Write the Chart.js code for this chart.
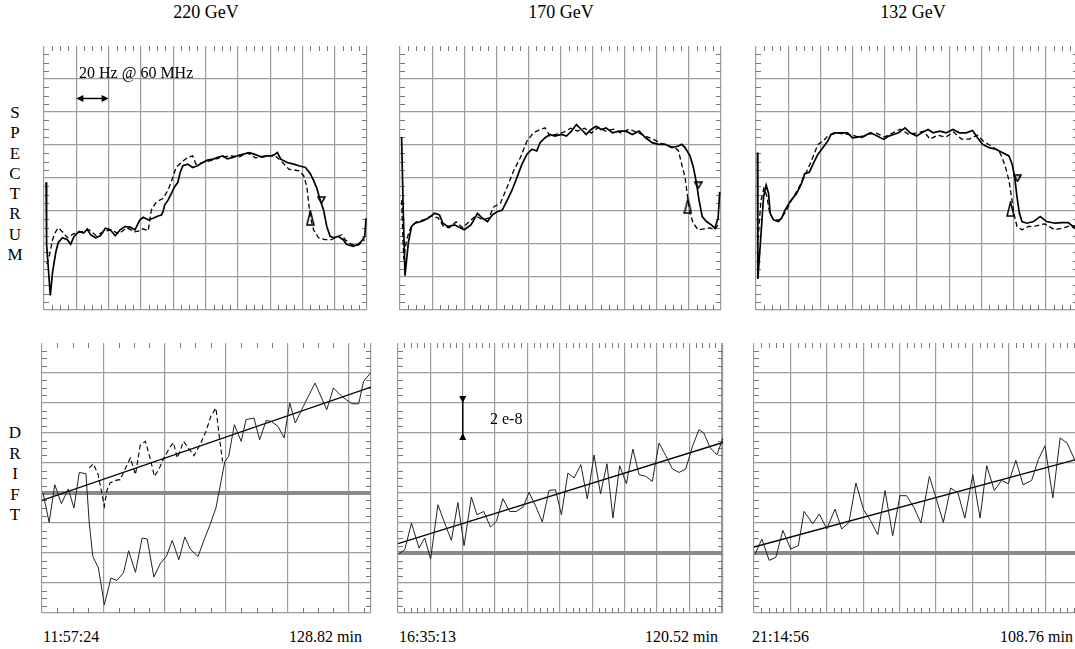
<!DOCTYPE html>
<html>
<head>
<meta charset="utf-8">
<script src="https://cdn.jsdelivr.net/npm/chart.js@4.4.1/dist/chart.umd.min.js"></script>
<style>
  html, body { margin: 0; padding: 0; background: #fff; }
  body { width: 1075px; height: 649px; overflow: hidden; position: relative;
         font-family: "Liberation Serif", "Times New Roman", serif; color: #000; }
  canvas { position: absolute; }
  .title { position: absolute; top: 2px; width: 200px; text-align: center; font-size: 18px; line-height: 20px; }
  .side { position: absolute; left: 5px; width: 20px; text-align: center; font-size: 17px; }
  .foot { position: absolute; top: 627px; font-size: 16px; line-height: 20px; white-space: nowrap; }
  .note { position: absolute; font-size: 16px; line-height: 20px; white-space: nowrap; z-index: 2; }
</style>
</head>
<body>
<div class="title" style="left:106px">220 GeV</div>
<div class="title" style="left:461px">170 GeV</div>
<div class="title" style="left:813px">132 GeV</div>

<div class="side" style="top:103px;line-height:20.3px">S<br>P<br>E<br>C<br>T<br>R<br>U<br>M</div>
<div class="side" style="top:423px;line-height:20.5px">D<br>R<br>I<br>F<br>T</div>

<div class="foot" style="left:43px">11:57:24</div>
<div class="foot" style="right:713px">128.82 min</div>
<div class="foot" style="left:399px">16:35:13</div>
<div class="foot" style="right:357px">120.52 min</div>
<div class="foot" style="left:752px">21:14:56</div>
<div class="foot" style="right:2px">108.76 min</div>

<div class="note" style="left:79px;top:63px">20 Hz @ 60 MHz</div>
<div class="note" style="left:490px;top:409px">2 e-8</div>

<canvas id="spec220"></canvas>
<canvas id="spec170"></canvas>
<canvas id="spec132"></canvas>
<canvas id="drift220"></canvas>
<canvas id="drift170"></canvas>
<canvas id="drift132"></canvas>

<script>
// ---- axis ticks ----
const freqTicks = [-100, -80, -60, -40, -20, 0, 20, 40, 60, 80, 100];   // Hz, 20 Hz / div
const levelTicks = [0, 1, 2, 3, 4, 5, 6, 7, 8];
const time220Ticks = [0, 24, 48, 72, 96, 120, 128.82];                   // min
const time170Ticks = [0, 12, 24, 36, 48, 60, 72, 84, 96, 108, 120, 120.52];
const time132Ticks = [0, 12, 24, 36, 48, 60, 72, 84, 96, 108, 108.76];
const drift220Ticks = [-8, -6, -4, -2, 0, 2, 4, 6, 8, 10];             // 1e-8
const driftTicks = [-4, -2, 0, 2, 4, 6, 8, 10, 12, 14];

// ---- spectrum traces [Hz, div] ----
const spec220Solid = [[-98.7,3.87],[-98.4,1.99],[-96.1,0.44],[-94.7,1.15],[-92.7,1.75],[-91.2,2.04],[-88.6,2.19],[-85.5,2.13],[-83.5,1.99],[-81.4,2.23],[-78.3,2.38],[-75.5,2.33],[-73.2,2.45],[-71.2,2.28],[-68.2,2.19],[-65.1,2.25],[-62.0,2.48],[-59.0,2.43],[-55.9,2.25],[-52.9,2.43],[-49.8,2.53],[-46.7,2.51],[-43.7,2.43],[-40.6,2.73],[-38.5,2.81],[-35.5,2.73],[-32.4,2.78],[-29.4,2.85],[-27.3,2.88],[-26.3,2.98],[-25.3,3.18],[-23.2,3.33],[-21.2,3.53],[-19.2,3.73],[-17.1,3.87],[-15.7,4.17],[-14.0,4.37],[-11.0,4.42],[-7.9,4.32],[-4.9,4.37],[-1.8,4.47],[1.3,4.54],[4.7,4.57],[7.5,4.63],[10.8,4.67],[13.5,4.58],[16.9,4.62],[20.0,4.68],[23.0,4.72],[27.2,4.77],[31.3,4.70],[34.5,4.64],[37.4,4.67],[41.4,4.67],[44.5,4.77],[46.6,4.57],[50.6,4.47],[54.7,4.42],[57.8,4.37],[61.9,4.32],[64.9,4.13],[66.9,3.93],[69.0,3.68],[71.0,3.33],[73.1,3.03],[75.1,2.53],[77.2,2.23],[79.2,2.19],[82.2,2.23],[85.3,2.13],[87.3,1.99],[91.4,1.93],[94.5,1.99],[96.5,2.08],[98.6,2.23],[99.4,2.78]];
const spec220Dashed = [[-98.3,1.39],[-96.5,1.69],[-94.7,2.13],[-92.8,2.37],[-91.2,2.49],[-88.6,2.37],[-85.5,2.19],[-81.8,2.31],[-76.9,2.37],[-72.0,2.43],[-67.7,2.25],[-63.5,2.37],[-58.6,2.43],[-53.7,2.31],[-48.8,2.49],[-43.9,2.37],[-40.8,2.40],[-39.0,2.46],[-35.5,2.40],[-33.5,3.03],[-30.4,3.28],[-26.3,3.38],[-23.2,3.63],[-20.2,4.02],[-18.2,4.32],[-15.1,4.47],[-11.0,4.62],[-7.9,4.67],[-5.9,4.42],[-2.2,4.46],[2.7,4.52],[8.8,4.61],[14.9,4.67],[21.1,4.64],[26.0,4.76],[30.9,4.61],[36.3,4.64],[42.5,4.70],[46.7,4.52],[51.6,4.27],[57.8,4.22],[60.8,4.07],[62.8,3.73],[63.9,3.23],[64.9,2.83],[66.9,2.43],[70.0,2.19],[74.1,2.13],[78.0,2.13],[84.3,2.28],[86.5,2.13],[90.4,1.99],[94.5,1.96],[98.6,2.13]];
const spec220Marks = [[64.9,2.79],[71.8,3.33]];   // [open marker, closing marker]

const spec170Solid = [[-99.0,5.24],[-98.0,3.03],[-96.9,1.04],[-94.8,2.04],[-92.8,2.53],[-90.8,2.63],[-86.6,2.68],[-82.5,2.78],[-78.4,2.93],[-75.4,2.88],[-73.3,2.63],[-70.2,2.53],[-66.1,2.58],[-60.0,2.43],[-55.8,2.58],[-51.7,2.93],[-48.6,2.78],[-45.5,2.68],[-42.5,2.88],[-39.4,2.98],[-36.3,3.03],[-33.2,3.33],[-30.2,3.63],[-27.1,4.02],[-24.0,4.42],[-20.9,4.72],[-17.8,4.87],[-14.8,4.82],[-12.7,5.07],[-9.6,5.22],[-6.6,5.32],[-3.5,5.27],[0.6,5.32],[3.7,5.27],[6.8,5.42],[9.9,5.62],[13.0,5.47],[16.0,5.32],[19.1,5.47],[22.2,5.57],[25.3,5.47],[28.4,5.52],[32.4,5.37],[36.6,5.42],[40.7,5.42],[44.8,5.32],[48.9,5.42],[53.0,5.22],[57.1,5.07],[61.2,5.02],[65.3,5.02],[69.4,4.92],[73.5,4.97],[75.5,5.02],[77.6,4.92],[80.7,4.67],[82.8,4.32],[84.8,3.83],[86.3,3.33],[88.3,2.83],[90.9,2.68],[94.0,2.58],[96.1,2.48],[98.2,2.78],[99.2,3.58]];
const spec170Dashed = [[-99.0,3.33],[-97.7,1.54],[-95.9,2.13],[-93.4,2.49],[-89.8,2.67],[-85.4,2.73],[-80.5,2.85],[-76.2,2.79],[-73.1,2.55],[-69.4,2.49],[-65.1,2.67],[-60.8,2.49],[-57.1,2.67],[-52.8,2.85],[-48.4,2.73],[-44.7,2.79],[-41.5,3.13],[-37.4,3.24],[-33.2,3.73],[-29.2,4.22],[-25.0,4.62],[-20.9,5.12],[-16.8,5.37],[-12.7,5.47],[-9.6,5.52],[-6.6,5.27],[-2.2,5.33],[2.1,5.39],[6.4,5.51],[10.7,5.42],[15.0,5.51],[19.3,5.36],[23.6,5.54],[27.9,5.42],[32.9,5.48],[37.8,5.36],[42.7,5.48],[47.6,5.39],[52.6,5.27],[57.5,5.18],[62.4,5.06],[67.4,4.97],[71.5,4.92],[73.5,4.82],[75.5,4.42],[77.6,4.02],[79.2,3.43],[80.7,2.93],[82.7,2.63],[85.8,2.43],[89.5,2.46],[93.2,2.49],[96.1,2.43],[98.2,2.58]];
const spec170Marks = [[79.4,3.15],[85.8,3.78]];

const spec132Solid = [[-99.1,4.77],[-98.9,2.73],[-98.8,0.94],[-96.7,2.43],[-95.3,3.43],[-93.7,3.78],[-92.2,3.53],[-91.2,2.93],[-89.1,2.73],[-86.1,2.68],[-84.0,2.79],[-82.0,3.03],[-78.9,3.28],[-74.8,3.53],[-71.8,3.83],[-69.8,4.13],[-66.9,4.17],[-64.6,4.42],[-61.5,4.72],[-58.5,4.92],[-55.4,5.12],[-53.4,5.32],[-51.3,5.37],[-47.2,5.37],[-43.1,5.37],[-40.1,5.22],[-37.0,5.24],[-32.9,5.27],[-28.8,5.37],[-24.7,5.27],[-20.7,5.17],[-17.6,5.27],[-14.5,5.32],[-11.5,5.37],[-7.4,5.52],[-4.3,5.37],[-0.2,5.27],[2.9,5.37],[6.9,5.47],[10.0,5.37],[14.1,5.42],[18.2,5.37],[22.3,5.47],[26.4,5.37],[30.5,5.37],[34.5,5.44],[37.6,5.22],[40.7,5.02],[44.8,4.92],[48.9,4.87],[52.9,4.77],[57.1,4.67],[59.1,4.42],[60.7,4.02],[62.1,3.43],[63.6,2.93],[65.2,2.68],[68.3,2.63],[72.4,2.68],[76.5,2.83],[80.6,2.68],[85.7,2.63],[89.8,2.65],[93.9,2.65],[96.9,2.53],[100.0,2.58]];
const spec132Dashed = [[-98.8,2.13],[-96.9,3.33],[-95.1,3.69],[-93.3,3.45],[-91.4,2.91],[-89.0,2.73],[-85.3,2.73],[-81.6,2.97],[-77.9,3.33],[-73.6,3.69],[-69.9,4.04],[-65.6,4.52],[-61.5,5.02],[-58.3,5.12],[-54.8,5.30],[-49.8,5.36],[-44.2,5.33],[-39.9,5.30],[-35.0,5.21],[-30.1,5.33],[-25.2,5.36],[-20.2,5.24],[-15.3,5.36],[-10.4,5.48],[-5.5,5.33],[-0.6,5.36],[4.3,5.42],[8.0,5.18],[12.9,5.30],[17.8,5.24],[22.7,5.39],[27.6,5.18],[32.5,5.18],[37.4,5.30],[41.1,5.12],[46.0,4.97],[50.9,4.82],[52.9,4.62],[55.0,4.32],[57.1,3.93],[58.7,3.43],[60.1,2.94],[62.1,2.53],[65.2,2.43],[69.3,2.53],[74.2,2.55],[79.1,2.61],[85.7,2.43],[90.8,2.49],[95.1,2.55],[98.8,2.46]];
const spec132Marks = [[58.1,3.06],[62.4,3.99]];

// ---- drift [min, 1e-8] ----
const drift220 = [[0.4,0.0],[2.8,-1.96],[5.0,0.55],[7.6,-0.71],[10.3,0.27],[12.5,-1.0],[14.6,1.37],[17.2,1.29],[18.5,-2.0],[19.9,-4.23],[22.1,-5.0],[24.4,-7.45],[27.0,-5.67],[29.3,-5.83],[31.9,-5.33],[33.9,-3.85],[36.6,-5.29],[39.2,-3.0],[41.2,-3.07],[43.8,-5.6],[46.4,-4.67],[48.7,-4.23],[51.0,-3.16],[53.6,-4.45],[55.9,-2.93],[58.2,-3.78],[61.1,-4.23],[63.5,-3.11],[65.8,-2.11],[68.1,-1.0],[70.1,0.77],[71.6,2.11],[73.1,2.44],[75.3,4.55],[78.0,3.44],[79.9,4.89],[83.0,5.0],[85.2,3.55],[87.8,4.84],[89.8,4.77],[92.4,4.44],[94.8,3.67],[97.0,6.0],[99.2,4.67],[102.3,5.77],[106.9,7.33],[111.5,5.55],[114.1,7.0],[117.4,6.44],[121.3,5.95],[124.0,5.95],[125.9,7.44],[128.8,8.04]];
const drift220Alt = [[18.5,1.67],[20.1,1.95],[22.0,1.22],[23.4,0.0],[24.4,-0.89],[25.5,0.22],[26.7,0.67],[28.7,0.84],[30.6,0.89],[33.0,1.77],[34.6,2.33],[36.6,1.22],[38.5,3.22],[40.5,3.44],[42.5,2.22],[44.0,1.11],[45.7,1.55],[47.7,2.33],[49.7,2.93],[51.4,3.37],[53.0,2.33],[55.4,3.44],[57.6,2.93],[59.5,2.49],[61.9,3.22],[64.2,4.11],[66.1,5.11],[68.1,5.67],[69.4,3.77],[70.7,2.11]];
const drift220Fit = [[0,-0.49],[128.82,7.06]];

const drift170 = [[0.4,-0.05],[2.5,0.22],[5.0,2.0],[7.8,0.33],[9.9,1.0],[12.1,-0.4],[14.8,3.22],[17.3,2.0],[19.8,0.84],[22.2,3.37],[24.5,0.49],[27.2,3.73],[29.3,2.55],[31.8,2.77],[34.3,1.73],[36.5,2.11],[38.9,3.62],[41.4,2.77],[43.9,2.77],[46.4,3.07],[48.6,4.04],[51.1,3.11],[53.5,2.07],[56.0,4.17],[58.4,4.22],[60.6,2.55],[63.0,5.33],[65.3,5.0],[67.8,5.89],[70.2,3.6],[72.7,6.53],[75.1,3.95],[77.5,5.95],[79.7,2.33],[82.2,5.82],[84.7,4.62],[87.1,6.93],[89.4,5.22],[91.9,5.11],[94.3,4.77],[96.8,7.33],[99.3,6.49],[101.8,5.6],[104.2,5.37],[106.7,5.6],[109.2,7.11],[111.6,8.22],[113.4,8.0],[115.8,7.0],[118.3,6.55],[120.5,7.67]];
const drift170Fit = [[0,0.62],[120.52,7.37]];

const drift132 = [[0.3,-0.11],[2.6,0.93],[5.0,-0.49],[7.2,-0.29],[9.5,1.51],[12.1,0.27],[14.6,0.49],[16.5,2.77],[19.4,1.95],[21.5,2.6],[24.0,1.6],[26.7,2.93],[28.9,1.6],[31.3,2.04],[33.6,4.67],[36.1,2.89],[38.4,2.17],[40.8,1.22],[43.2,4.17],[45.7,1.15],[48.1,3.82],[50.3,3.82],[52.8,3.0],[55.0,2.0],[57.8,5.11],[60.0,3.67],[62.4,2.04],[64.8,4.33],[67.2,4.0],[69.5,2.33],[72.1,5.22],[74.5,2.33],[76.7,5.82],[79.2,4.17],[81.6,4.84],[83.8,4.62],[86.3,6.17],[88.7,4.55],[91.5,4.84],[93.7,6.22],[95.9,7.15],[98.5,3.67],[100.9,7.67],[103.2,7.33],[105.8,6.17]];
const drift132Fit = [[0,0.4],[108.76,6.38]];

// ---- small helpers for drawing ----
function triangleImage(w, h, up) {
  const c = document.createElement('canvas');
  c.width = w; c.height = h;
  const g = c.getContext('2d');
  g.strokeStyle = '#000'; g.lineWidth = 1.5;
  g.beginPath();
  if (up) { g.moveTo(w / 2, 1); g.lineTo(w - 1, h - 1); g.lineTo(1, h - 1); }
  else { g.moveTo(1, 1); g.lineTo(w - 1, 1); g.lineTo(w / 2, h - 1); }
  g.closePath(); g.stroke();
  return c;
}
const markUp = triangleImage(9, 16, true);
const markDown = triangleImage(9, 8, false);

const PAD = 4;
const GRID = '#9c9c9c';

function near(list, v, eps) { return list.some(t => Math.abs(t - v) < eps); }

const minorTicks = {
  id: 'minorTicks',
  beforeDatasetsDraw(chart, args, opts) {
    const {ctx, chartArea: a, scales: {x, y}} = chart;
    ctx.save();
    ctx.strokeStyle = '#777'; ctx.lineWidth = 1;
    ctx.beginPath();
    for (let v = x.min; v <= x.max + 1e-9; v += opts.x) {
      if (near(opts.xMajor, v, opts.x / 3)) continue;
      const px = Math.round(x.getPixelForValue(v)) + 0.5;
      ctx.moveTo(px, a.top); ctx.lineTo(px, a.top + 5);
      ctx.moveTo(px, a.bottom); ctx.lineTo(px, a.bottom - 5);
    }
    for (let v = y.min; v <= y.max + 1e-9; v += opts.y) {
      if (near(opts.yMajor, v, opts.y / 3)) continue;
      const py = Math.round(y.getPixelForValue(v)) + 0.5;
      ctx.moveTo(a.left, py); ctx.lineTo(a.left + 5, py);
      ctx.moveTo(a.right, py); ctx.lineTo(a.right - 5, py);
    }
    ctx.stroke();
    ctx.restore();
  }
};

function head(ctx, x, y, dx, dy) {
  const L = 7, W = 3.5;
  ctx.beginPath();
  ctx.moveTo(x, y);
  ctx.lineTo(x - dx * L - dy * W, y - dy * L + dx * W);
  ctx.lineTo(x - dx * L + dy * W, y - dy * L - dx * W);
  ctx.closePath(); ctx.fill();
}

// double-headed scale arrows
const arrows = {
  id: 'arrows',
  afterDatasetsDraw(chart, args, opts) {
    if (!opts.items) return;
    const {ctx, scales: {x, y}} = chart;
    ctx.save();
    ctx.fillStyle = '#000'; ctx.strokeStyle = '#000'; ctx.lineWidth = 1.5;
    opts.items.forEach(it => {
      if (it.h) {
        const x0 = x.getPixelForValue(it.h[0]), x1 = x.getPixelForValue(it.h[1]);
        const py = y.getPixelForValue(it.y);
        ctx.beginPath(); ctx.moveTo(x0 + 4, py); ctx.lineTo(x1 - 4, py); ctx.stroke();
        head(ctx, x0, py, -1, 0); head(ctx, x1, py, 1, 0);
      } else {
        const y0 = y.getPixelForValue(it.v[0]), y1 = y.getPixelForValue(it.v[1]);
        const px = x.getPixelForValue(it.x);
        ctx.beginPath(); ctx.moveTo(px, y0 - 4); ctx.lineTo(px, y1 + 4); ctx.stroke();
        head(ctx, px, y0, 0, 1); head(ctx, px, y1, 0, -1);
      }
    });
    ctx.restore();
  }
};

function scale(min, max, ticks, zero, noTop) {
  return {
    type: 'linear', min: min, max: max,
    afterBuildTicks: ax => { ax.ticks = ticks.map(v => ({value: v})); },
    ticks: {display: false},
    grid: {
      drawTicks: false,
      color: c => {
        if (!c.tick) return GRID;
        if (noTop && c.tick.value === max) return 'rgba(0,0,0,0)';
        return c.tick.value === zero ? '#8a8a8a' : GRID;
      },
      lineWidth: c => (c.tick && c.tick.value === zero) ? 4 : 1.2
    },
    border: {display: false}
  };
}

function line(data, opt) {
  return Object.assign({data: data, borderColor: '#000', borderWidth: 1, pointRadius: 0,
    fill: false, tension: 0}, opt);
}

function panel(id, box, datasets, xs, ys, minor, items) {
  const cv = document.getElementById(id);
  const w = box[2] - box[0], h = box[3] - box[1];
  cv.width = Math.round(w + 2 * PAD); cv.height = Math.round(h + 2 * PAD);
  cv.style.left = (box[0] - PAD) + 'px'; cv.style.top = (box[1] - PAD) + 'px';
  new Chart(cv, {
    type: 'line',
    data: {datasets: datasets},
    options: {
      responsive: false, animation: false, events: [],
      layout: {padding: PAD},
      scales: {x: xs, y: ys},
      plugins: {legend: {display: false}, tooltip: {enabled: false},
        minorTicks: minor, arrows: {items: items}}
    },
    plugins: [minorTicks, arrows]
  });
}

function specSets(solid, dashed, marks) {
  return [
    line(dashed, {borderWidth: 1.3, borderDash: [5, 3]}),
    line(solid, {borderWidth: 1.7}),
    {data: [marks[0]], showLine: false, pointStyle: markUp, pointRadius: 5},
    {data: [marks[1]], showLine: false, pointStyle: markDown, pointRadius: 5}
  ];
}

const specMinor = {x: 5, y: 0.25, xMajor: freqTicks, yMajor: levelTicks};

panel('spec220', [42.3, 43.5, 369, 311.5], specSets(spec220Solid, spec220Dashed, spec220Marks),
  scale(-100, 100, freqTicks), scale(0, 8, levelTicks, undefined, true), specMinor,
  [{h: [-80, -60], y: 6.41}]);
panel('spec170', [398.3, 43.5, 723, 311.5], specSets(spec170Solid, spec170Dashed, spec170Marks),
  scale(-100, 100, freqTicks), scale(0, 8, levelTicks, undefined, true), specMinor, []);
panel('spec132', [754, 43.5, 1080, 311.5], specSets(spec132Solid, spec132Dashed, spec132Marks),
  scale(-100, 100, freqTicks), scale(0, 8, levelTicks, undefined, true), specMinor, []);

panel('drift220', [42.3, 343.3, 370.8, 613.3], [
    line(drift220Alt, {borderWidth: 1.1, borderDash: [5, 3]}),
    line(drift220, {borderColor: '#222'}),
    line(drift220Fit, {borderWidth: 1.3})
  ],
  scale(0, 128.82, time220Ticks), scale(-8, 10, drift220Ticks, 0, true),
  {x: 6, y: 0.5, xMajor: time220Ticks, yMajor: drift220Ticks}, []);
panel('drift170', [398.3, 343.3, 723, 613.3], [
    line(drift170, {borderColor: '#222'}),
    line(drift170Fit, {borderWidth: 1.3})
  ],
  scale(0, 120.52, time170Ticks), scale(-4, 14, driftTicks, 0, true),
  {x: 2.4, y: 0.5, xMajor: time170Ticks, yMajor: driftTicks},
  [{v: [10, 8], x: 24}]);
panel('drift132', [754, 343.3, 1084, 613.3], [
    line(drift132, {borderColor: '#222'}),
    line(drift132Fit, {borderWidth: 1.3})
  ],
  scale(0, 108.76, time132Ticks), scale(-4, 14, driftTicks, 0, true),
  {x: 2.4, y: 0.5, xMajor: time132Ticks, yMajor: driftTicks}, []);
</script>
</body>
</html>
